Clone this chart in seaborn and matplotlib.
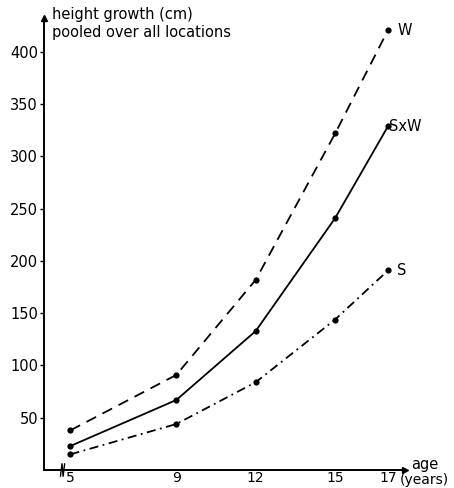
import matplotlib
matplotlib.use("Agg")
import matplotlib.pyplot as plt
import seaborn as sns
import pandas as pd

ages = [5, 9, 12, 15, 17]
w_vals = [38, 91, 182, 322, 421]
sxw_vals = [23, 67, 133, 241, 329]
s_vals = [15, 44, 84, 144, 191]
series_names = ["W", "SxW", "S"]
y_ticks = [50, 100, 150, 200, 250, 300, 350, 400]

df = pd.DataFrame({
    "age": ages * 3,
    "height": w_vals + sxw_vals + s_vals,
    "series": ["W"] * 5 + ["SxW"] * 5 + ["S"] * 5,
})

sns.set_style("white")
plt.rcParams['font.family'] = ['DejaVu Sans']
plt.rcParams['text.color'] = 'black'
plt.rcParams['xtick.color'] = 'black'
plt.rcParams['ytick.color'] = 'black'
plt.rcParams['xtick.labelcolor'] = 'black'
plt.rcParams['ytick.labelcolor'] = 'black'

W, H = 454, 488
fig = plt.figure(figsize=(W / 100, H / 100), dpi=100)
ax = fig.add_axes([43.5 / W, 1 - 470 / H, (405 - 43.5) / W, (470 - 18) / H])

dashes = {"W": (6, 4), "SxW": "", "S": (5, 2.5, 1, 2.5)}
sns.lineplot(data=df, x="age", y="height", style="series", dashes=dashes,
             markers={"W": "o", "SxW": "o", "S": "o"}, color="black",
             markersize=4.5, linewidth=1.3, ax=ax, legend=False,
             markeredgewidth=0)

ax.set_xlim(3.98, 17.64)
ax.set_ylim(0, 432.5)
ax.set_xticks(ages)
ax.set_xticklabels([str(a) for a in ages])
ax.set_yticks(y_ticks)
ax.set_yticklabels([str(v) for v in y_ticks])
ax.tick_params(axis='y', length=3, width=1, direction='out', pad=1, labelsize=10.5, left=True)
ax.tick_params(axis='x', length=0, pad=0.8, labelsize=10)
ax.set_xlabel("")
ax.set_ylabel("")
for s in ["top", "right"]:
    ax.spines[s].set_visible(False)
for s in ["left", "bottom"]:
    ax.spines[s].set_color("black")
    ax.spines[s].set_linewidth(1.4)

# arrows at axis ends
ax.plot([0], [1], marker="^", color="black", markersize=5, transform=ax.transAxes, clip_on=False)
ax.plot([1], [0], marker=">", color="black", markersize=5, transform=ax.transAxes, clip_on=False)

# axis break marker on x-axis
ax.plot([4.62, 4.68, 4.72, 4.78], [-6, 6, -6, 6], color="black", lw=1, clip_on=False)

# series labels
ax.text(17.35, 421, "W", fontsize=10.5, va="center", ha="left")
ax.text(17.05, 329, "SxW", fontsize=10.5, va="center", ha="left")
ax.text(17.35, 191, "S", fontsize=10.5, va="center", ha="left")

# titles
fig.text(52 / W, 1 - 15 / H, "height growth (cm)", fontsize=10.5, va="center", ha="left")
fig.text(52 / W, 1 - 32 / H, "pooled over all locations", fontsize=10.5, va="center", ha="left")
fig.text(411 / W, 1 - 465 / H, "age", fontsize=10.5, va="center", ha="left")
fig.text(400 / W, 1 - 480 / H, "(years)", fontsize=10, va="center", ha="left")

fig.savefig("out.png", dpi=100)
